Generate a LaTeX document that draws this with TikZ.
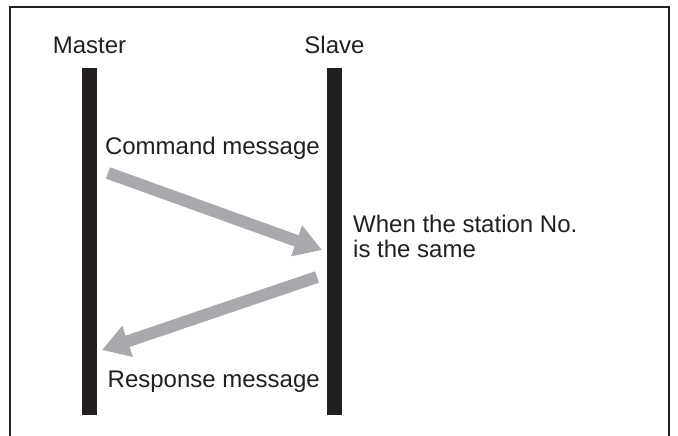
\documentclass[tikz,border=0pt]{standalone}
\usepackage{fontspec}
\setmainfont{Liberation Sans}
\usetikzlibrary{arrows.meta}
\definecolor{barBlack}{HTML}{231F20}
\definecolor{msgGray}{HTML}{A7A9AC}

\begin{document}
\begin{tikzpicture}[x=1pt, y=-1pt,
    % 主站/从站的竖条
    barStyle/.style={
        rectangle, fill=barBlack, inner sep=0pt,
        minimum width=15pt, minimum height=347pt
    },
    % 文字
    textStyle/.style={
        font=\fontsize{24}{25}\selectfont, text=barBlack, inner sep=0pt
    },
    % 灰色粗箭头
    msgStyle/.style={
        line width=12pt, draw=msgGray,
        -{Triangle[length=27pt,width=31pt]}
    }
]
    \useasboundingbox (0,0) rectangle (678,436);

    % 外框（下边开口）
    \draw[line width=2pt, draw=barBlack] (10,436) -- (10,7) -- (669,7) -- (669,436);

    % 两根竖条
    \node[barStyle] (master) at (89.5,241.5) {};
    \node[barStyle] (slave)  at (334.5,241.5) {};

    % 顶部标签
    \node[textStyle, anchor=base] (masterLabel) at (master.north |- 0,54) {Master};
    \node[textStyle, anchor=base] (slaveLabel)  at (slave.north |- 0,54) {Slave};

    % 箭头端点
    \coordinate (cmdStart) at (108,173);
    \coordinate (cmdEnd)   at (322,250);
    \coordinate (resStart) at (317,277);
    \coordinate (resEnd)   at (102,350);

    % Command message
    \node[textStyle, anchor=base east] (cmdLabel) at (320,154) {Command message};
    \draw[msgStyle] (cmdStart) -- (cmdEnd);

    % 从站判断
    \node[textStyle, anchor=base west, align=left] (sameNote) at (353,257)
        {When the station No.\\is the same};

    % Response message
    \draw[msgStyle] (resStart) -- (resEnd);
    \node[textStyle, anchor=base east] (resLabel) at (320,387) {Response message};
\end{tikzpicture}
\end{document}
